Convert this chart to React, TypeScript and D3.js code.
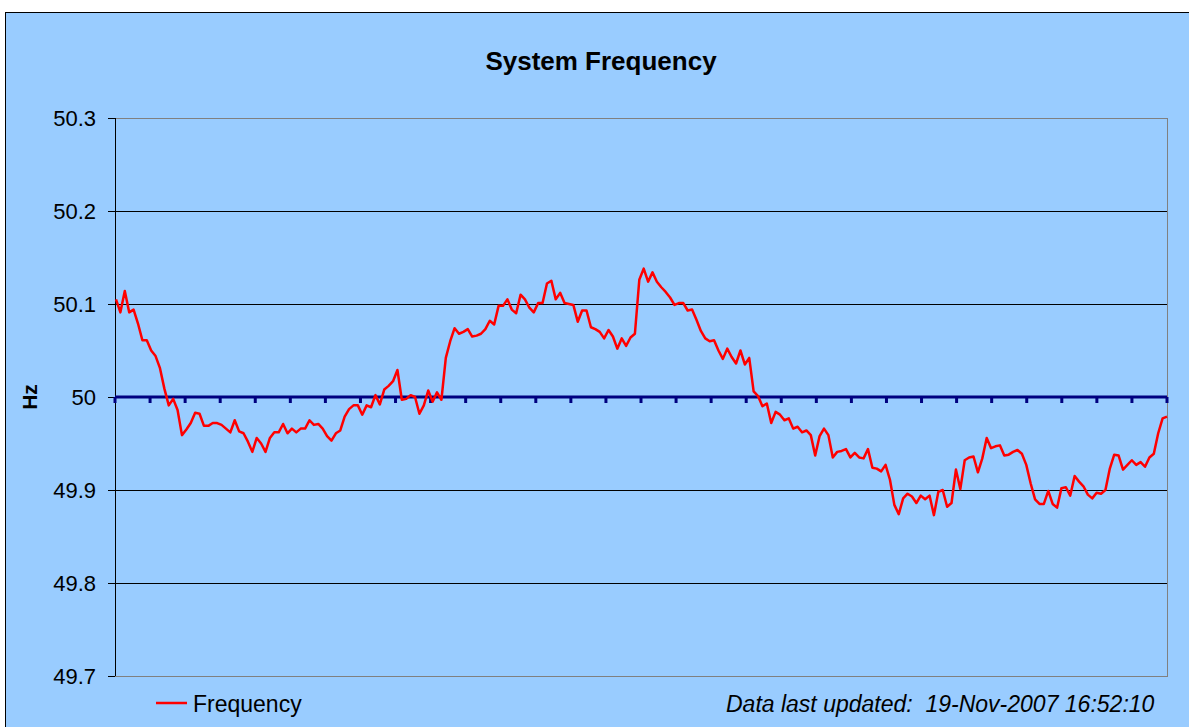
import React from 'react';
import * as d3 from 'd3';

const chartTitle = 'System Frequency';
const yAxisTitle = 'Hz';
const seriesName = 'Frequency';
const updatedLabel = 'Data last updated:  19-Nov-2007 16:52:10';
const yTickValues = [49.7, 49.8, 49.9, 50.0, 50.1, 50.2, 50.3];
const yTickLabels = ['49.7', '49.8', '49.9', '50', '50.1', '50.2', '50.3'];
const nominal = 50.0;
const categoryTickEvery = 8;

const frequency = [
  50.105, 50.091, 50.114, 50.091, 50.094, 50.079, 50.061, 50.061, 50.050, 50.044,
  50.031, 50.009, 49.991, 49.998, 49.986, 49.959, 49.965, 49.972, 49.983, 49.982,
  49.969, 49.969, 49.972, 49.972, 49.970, 49.966, 49.962, 49.975, 49.963, 49.961,
  49.952, 49.941, 49.956, 49.950, 49.941, 49.956, 49.962, 49.962, 49.971, 49.961,
  49.966, 49.962, 49.966, 49.966, 49.975, 49.970, 49.971, 49.966, 49.958, 49.953,
  49.961, 49.964, 49.979, 49.987, 49.991, 49.991, 49.981, 49.991, 49.989, 50.002,
  49.992, 50.008, 50.012, 50.017, 50.029, 49.997, 49.998, 50.002, 50.000, 49.982,
  49.991, 50.007, 49.995, 50.005, 49.997, 50.042, 50.060, 50.074, 50.068, 50.070,
  50.073, 50.065, 50.066, 50.068, 50.073, 50.082, 50.078, 50.098, 50.098, 50.105,
  50.094, 50.090, 50.110, 50.105, 50.096, 50.091, 50.101, 50.101, 50.122, 50.125,
  50.105, 50.112, 50.101, 50.100, 50.099, 50.081, 50.093, 50.093, 50.075, 50.073,
  50.070, 50.063, 50.072, 50.065, 50.052, 50.063, 50.055, 50.064, 50.068, 50.126,
  50.138, 50.124, 50.134, 50.124, 50.118, 50.113, 50.107, 50.099, 50.101, 50.101,
  50.093, 50.094, 50.083, 50.071, 50.063, 50.060, 50.061, 50.050, 50.041, 50.052,
  50.043, 50.036, 50.050, 50.035, 50.042, 50.006, 50.001, 49.990, 49.993, 49.972,
  49.984, 49.981, 49.975, 49.977, 49.966, 49.968, 49.962, 49.964, 49.959, 49.937,
  49.958, 49.966, 49.959, 49.935, 49.941, 49.942, 49.944, 49.935, 49.940, 49.935,
  49.934, 49.944, 49.924, 49.923, 49.920, 49.927, 49.911, 49.884, 49.874, 49.891,
  49.896, 49.893, 49.886, 49.894, 49.890, 49.894, 49.873, 49.898, 49.900, 49.882,
  49.886, 49.922, 49.901, 49.932, 49.935, 49.936, 49.919, 49.934, 49.956, 49.945,
  49.947, 49.948, 49.937, 49.938, 49.941, 49.943, 49.939, 49.927, 49.907, 49.890,
  49.885, 49.885, 49.899, 49.885, 49.881, 49.902, 49.903, 49.894, 49.915, 49.909,
  49.904, 49.895, 49.891, 49.897, 49.896, 49.900, 49.923, 49.938, 49.937, 49.922,
  49.927, 49.932, 49.927, 49.930, 49.925, 49.935, 49.939, 49.961, 49.977, 49.979,
];

const FONT = '"Liberation Sans", Arial, Helvetica, sans-serif';

export default function App() {
  const W = 1189;
  const H = 727;
  const left = 115;
  const right = 1167;
  const top = 118;
  const bottom = 676;

  const n = frequency.length;
  const x = d3.scaleLinear().domain([0, n - 1]).range([left + 1, right]);
  const y = d3.scaleLinear().domain([49.7, 50.3]).range([bottom, top]);
  const nTicks = n / categoryTickEvery;
  const xt = d3.scaleLinear().domain([0, nTicks]).range([left, right]);
  const line = d3
    .line<number>()
    .x((_, i) => x(i))
    .y((d) => y(d));

  const y0 = y(nominal);

  return (
    <svg
      width={W}
      height={H}
      style={{ position: 'absolute', left: 0, top: 0, display: 'block' }}
      fontFamily={FONT}
    >
      <rect x={0} y={0} width={W} height={H} fill="#ffffff" />
      <rect x={5.5} y={12.5} width={W + 10} height={H + 10} fill="#99CCFF" stroke="#000" strokeWidth={1} />

      <text x={601} y={69.5} textAnchor="middle" fontSize={26} fontWeight="bold" fill="#000">
        {chartTitle}
      </text>

      {/* grid lines */}
      {yTickValues.map((v) =>
        v === 49.7 || v === 50.3 || v === nominal ? null : (
          <line key={'g' + v} x1={left} x2={right} y1={Math.round(y(v)) + 0.5} y2={Math.round(y(v)) + 0.5} stroke="#000" strokeWidth={1} />
        )
      )}
      {/* plot border */}
      <rect x={left + 0.5} y={top + 0.5} width={right - left} height={bottom - top} fill="none" stroke="#808080" strokeWidth={1} />

      {/* y axis */}
      <line x1={left + 0.5} x2={left + 0.5} y1={top} y2={bottom} stroke="#000" strokeWidth={1} />
      {yTickValues.map((v, i) => (
        <g key={'t' + v}>
          <line x1={left - 7} x2={left} y1={Math.round(y(v)) + 0.5} y2={Math.round(y(v)) + 0.5} stroke="#000" strokeWidth={1} />
          <text x={96} y={y(v) + 8} textAnchor="end" fontSize={22} fill="#000">
            {yTickLabels[i]}
          </text>
        </g>
      ))}

      <text
        transform={`translate(37,${y0}) rotate(-90)`}
        textAnchor="middle"
        fontSize={21}
        fontWeight="bold"
        fill="#000"
      >
        {yAxisTitle}
      </text>

      {/* category axis at 50 Hz */}
      <line x1={left} x2={right} y1={y0} y2={y0} stroke="#000080" strokeWidth={3} />
      {d3.range(nTicks + 1).map((k) => (
        <line key={'c' + k} x1={xt(k)} x2={xt(k)} y1={y0} y2={y0 + 6} stroke="#000080" strokeWidth={3} />
      ))}

      <path d={line(frequency) || ''} fill="none" stroke="#FF0000" strokeWidth={2.5} strokeLinejoin="round" />

      {/* legend */}
      <line x1={156} x2={187} y1={703} y2={703} stroke="#FF0000" strokeWidth={2.5} />
      <text x={193} y={711.5} fontSize={23} fill="#000">
        {seriesName}
      </text>
      <text x={726} y={711.5} fontSize={23} fontStyle="italic" fill="#000" style={{ whiteSpace: 'pre' }}>
        {updatedLabel}
      </text>
    </svg>
  );
}
